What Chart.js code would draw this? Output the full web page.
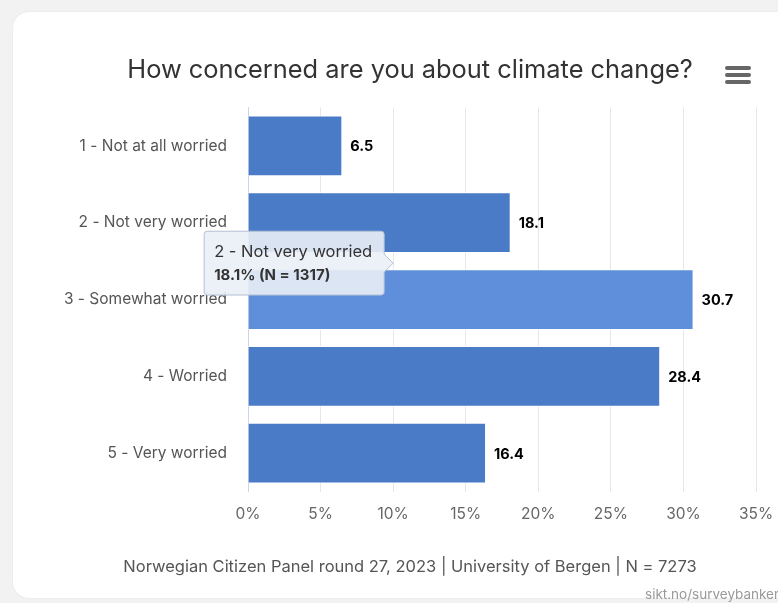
<!DOCTYPE html>
<html>
<head>
<meta charset="utf-8">
<script src="https://cdn.jsdelivr.net/npm/chart.js@4"></script>
<style>
  html, body { margin: 0; padding: 0; }
  body { width: 778px; height: 603px; background: #f2f2f2; overflow: hidden; position: relative; font-family: Inter, "Open Sans", sans-serif; }
  #card { position: absolute; left: 13px; top: 12px; width: 820px; height: 586px; background: #fff; border-radius: 16px; box-shadow: 0 0 2px rgba(0,0,0,0.08); }
  #chart { position: absolute; left: 13px; top: 12px; }
  #menu { position: absolute; left: 725px; top: 66px; width: 26px; }
  #menu div { height: 4px; background: #666; border-radius: 2px; margin-bottom: 3px; }
  #credits { position: absolute; left: 645px; top: 586px; font-size: 13.5px; color: #999; white-space: nowrap; }
</style>
</head>
<body>
<div id="card"></div>
<canvas id="chart" width="794" height="585"></canvas>
<div id="menu"><div></div><div></div><div></div></div>
<div id="credits">sikt.no/surveybanken</div>

<script>
    const categories = ['1 - Not at all worried', '2 - Not very worried', '3 - Somewhat worried', '4 - Worried', '5 - Very worried']
    const percentages = [6.5, 18.1, 30.7, 28.4, 16.4]
    const xTicks = [0, 5, 10, 15, 20, 25, 30, 35]

    // tooltip shown for the second answer
    const tooltipIndex = 1
    const tooltipN = 1317
    // bar under the mouse
    const hoverIndex = 2

    const barColor = '#4a7bc6'
    const hoverColor = '#5f8fda'

    Chart.Tooltip.positioners.besideBar = function() {
        const x = this.chart.scales.x.getPixelForValue(10)
        const y = this.chart.scales.y.getPixelForValue(tooltipIndex + 0.5) + 2
        return { x: x, y: y }
    }

    // value labels at the end of each bar
    const valueLabels = {
        id: 'valueLabels',
        afterDatasetsDraw(chart) {
            const ctx = chart.ctx
            const meta = chart.getDatasetMeta(0)
            ctx.save()
            ctx.font = 'bold 14.5px Inter'
            ctx.fillStyle = '#000'
            ctx.textAlign = 'left'
            ctx.textBaseline = 'middle'
            meta.data.forEach(function(bar, i) {
                ctx.fillText(percentages[i].toFixed(1), bar.x + 8, bar.y + 1)
            })
            ctx.restore()
        }
    }

    const chart = new Chart(document.getElementById('chart'), {
        type: 'bar',
        data: {
            labels: categories,
            datasets: [{
                data: percentages,
                backgroundColor: percentages.map((v, i) => i === hoverIndex ? hoverColor : barColor),
                borderColor: '#ffffff',
                borderWidth: 1,
                barPercentage: 0.79,
                categoryPercentage: 1.0
            }]
        },
        options: {
            indexAxis: 'y',
            responsive: false,
            animation: false,
            events: [],
            scales: {
                x: {
                    min: 0,
                    max: 35,
                    afterBuildTicks: function(scale) {
                        scale.ticks = xTicks.map(v => ({ value: v }))
                    },
                    grid: { color: '#e6e6e6', drawTicks: false },
                    border: { display: false },
                    ticks: {
                        color: '#666',
                        font: { family: 'Inter', size: 15.5 },
                        padding: 13,
                        maxRotation: 0,
                        callback: v => v + '%'
                    }
                },
                y: {
                    afterFit: function(scale) { scale.width = 235 },
                    grid: { display: false, drawTicks: false },
                    border: { display: true, color: '#ccd6eb', width: 1 },
                    ticks: {
                        color: '#555',
                        font: { family: 'Inter', size: 15.5 },
                        padding: 21
                    }
                },
                // empty strip on the right so titles stay centred on the whole card
                rightGap: {
                    type: 'category',
                    position: 'right',
                    afterFit: function(scale) { scale.width = 51 },
                    grid: { display: false, drawTicks: false },
                    border: { display: false },
                    ticks: { display: false }
                }
            },
            plugins: {
                legend: { display: false },
                title: {
                    display: true,
                    text: 'How concerned are you about climate change?',
                    color: '#333',
                    font: { family: 'Inter', size: 25.4, weight: 'normal' },
                    padding: { top: 43, bottom: 22 }
                },
                subtitle: {
                    display: true,
                    position: 'bottom',
                    text: 'Norwegian Citizen Panel round 27, 2023 | University of Bergen | N = 7273',
                    color: '#555',
                    font: { family: 'Inter', size: 16.5 },
                    padding: { top: 21, bottom: 20 }
                },
                tooltip: {
                    enabled: true,
                    position: 'besideBar',
                    xAlign: 'right',
                    yAlign: 'center',
                    backgroundColor: 'rgba(234,238,246,0.9)',
                    borderColor: '#b3c0d6',
                    borderWidth: 1,
                    cornerRadius: 3,
                    caretSize: 9,
                    caretPadding: 0,
                    displayColors: false,
                    padding: { left: 10, right: 12, top: 11, bottom: 11 },
                    titleColor: '#333',
                    titleFont: { family: 'Inter', size: 16.5, weight: 'normal' },
                    titleMarginBottom: 4,
                    bodyColor: '#333',
                    bodyFont: { family: 'Inter', size: 15, weight: 'bold' },
                    callbacks: {
                        title: items => categories[items[0].dataIndex],
                        label: item => percentages[item.dataIndex] + '% (N = ' + tooltipN + ')'
                    }
                }
            }
        },
        plugins: [valueLabels]
    })

    chart.tooltip.setActiveElements([{ datasetIndex: 0, index: tooltipIndex }], { x: 0, y: 0 })
    chart.update()
</script>
</body>
</html>
